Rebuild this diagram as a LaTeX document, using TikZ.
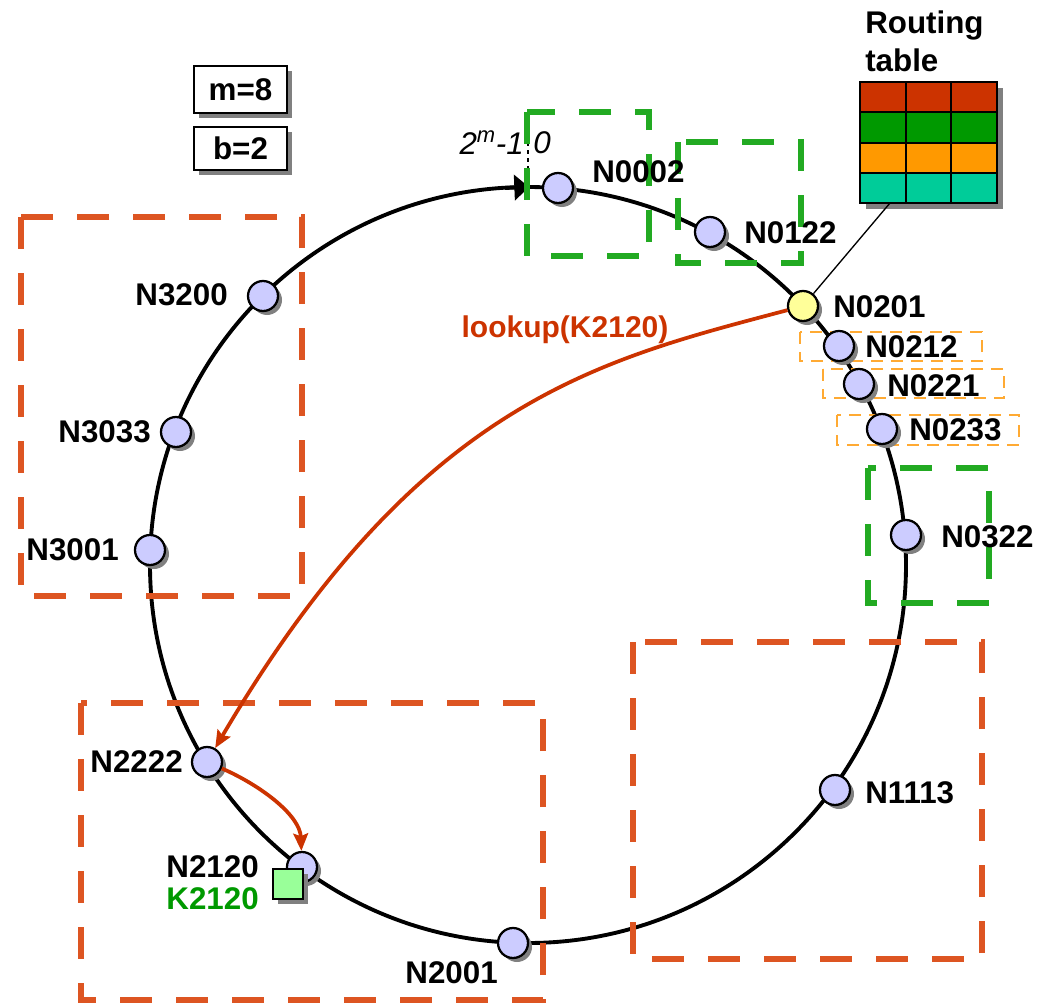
\documentclass[tikz,border=0pt]{standalone}
\usepackage{fontspec}
\setmainfont{Liberation Sans}
\usepackage{xcolor}
\usepackage{tikz}
\usetikzlibrary{shadows,arrows.meta}

\definecolor{peerfill}{RGB}{204,204,255}
\definecolor{selffill}{RGB}{255,255,153}
\definecolor{keyfill}{RGB}{153,255,153}
\definecolor{lookupred}{RGB}{204,51,0}
\definecolor{rowred}{RGB}{204,51,0}
\definecolor{rowgreen}{RGB}{0,153,0}
\definecolor{roworange}{RGB}{255,153,0}
\definecolor{rowteal}{RGB}{0,204,153}
\definecolor{zonered}{RGB}{221,85,34}
\definecolor{zonegreen}{RGB}{34,170,34}
\definecolor{zoneorange}{RGB}{255,170,51}

\tikzset{
  peer/.style={circle,draw,line width=1.7pt,fill=peerfill,minimum size=22.5pt,inner sep=0pt,
    drop shadow={shadow xshift=3pt,shadow yshift=-3pt,opacity=1,fill=black!50}},
  lbl/.style={inner sep=0pt,font=\fontsize{23.5}{28.5}\selectfont\bfseries},
  redbox/.style={draw=zonered,line width=4.2pt,dash pattern=on 24pt off 18pt},
  greenbox/.style={draw=zonegreen,line width=4.2pt,dash pattern=on 24pt off 18pt},
  leafbox/.style={draw=zoneorange,line width=2pt,dash pattern=on 9pt off 6pt},
  hop/.style={draw=lookupred,line width=2.8pt,-{Stealth[length=13pt,width=11pt,inset=2pt]}},
  parambox/.style={draw,line width=1.5pt,fill=white,minimum width=69.75pt,inner sep=0pt,
    font=\fontsize{23.5}{28.5}\selectfont\bfseries,
    drop shadow={shadow xshift=3.75pt,shadow yshift=-3.75pt,opacity=1,fill=black!50}}
}

\begin{document}
\begin{tikzpicture}[x=0.75pt,y=0.75pt,yscale=-1,xscale=1]
\useasboundingbox (0,0) rectangle (1039,1006);

% ring
\coordinate (ctr) at (528,565);
\draw[line width=2.9pt] (ctr) circle (378);
\draw[line width=2.9pt,-{Triangle[length=11pt,width=19pt]}] (505,188) -- (529,187);
\draw[line width=1pt,dash pattern=on 3pt off 3pt] (528,118) -- (528,186);
\draw (524,143) node [anchor=east][inner sep=0pt][font=\fontsize{23.5}{28.5}\selectfont\itshape] (wrapend) {2\textsuperscript{m}-1};
\draw (533,143) node [anchor=west][inner sep=0pt][font=\fontsize{23.5}{28.5}\selectfont\itshape] (wrapzero) {0};

% neighbourhood boxes
\draw[redbox] (21,217) rectangle (302,596);
\draw[redbox] (81,703) rectangle (543,1000);
\draw[redbox] (633,642) rectangle (982,959);
\draw[greenbox] (527,112) rectangle (649,256);
\draw[greenbox] (678,142) rectangle (801,263);
\draw[greenbox] (868,468) rectangle (989,603);
\draw[leafbox] (800,332) rectangle (982,361);
\draw[leafbox] (823,369) rectangle (1004,398);
\draw[leafbox] (837,415) rectangle (1019,445);

% parameters
\draw (240.5,89.5) node [parambox,minimum height=35.25pt] (mparam) {m=8};
\draw (240.5,148.5) node [parambox,minimum height=32.25pt] (bparam) {b=2};

% routing table
\fill[black!50] (866,88) rectangle (1003,209);
\foreach \c [count=\i from 0] in {rowred,rowgreen,roworange,rowteal}
  \fill[\c] (860,{82+30.25*\i}) rectangle (997,{112.25+30.25*\i});
\draw[line width=1.5pt] (860,82) rectangle (997,203);
\foreach \x in {905.7,951.3}
  \draw[line width=1.5pt] (\x,82) -- (\x,203);
\foreach \y in {112.25,142.5,172.75}
  \draw[line width=1.5pt] (860,\y) -- (997,\y);
\draw (865,41) node [lbl,anchor=west,align=left] (rtlabel) {Routing\\table};
\coordinate (rtfoot) at (890,203);

% peers
\draw (558,188) node [peer] (n0002) {};
\draw (710,232) node [peer] (n0122) {};
\draw (803,306) node [peer,fill=selffill] (n0201) {};
\draw (839,346) node [peer] (n0212) {};
\draw (859,384) node [peer] (n0221) {};
\draw (882,429) node [peer] (n0233) {};
\draw (906,535) node [peer] (n0322) {};
\draw (835,790) node [peer] (n1113) {};
\draw (513,943) node [peer] (n2001) {};
\draw (302,867) node [peer] (n2120) {};
\draw (207,762) node [peer] (n2222) {};
\draw (150,550) node [peer] (n3001) {};
\draw (176,432) node [peer] (n3033) {};
\draw (263,296) node [peer] (n3200) {};

\draw (288,884) node [rectangle,draw,line width=1.7pt,fill=keyfill,minimum size=22.5pt,inner sep=0pt,
  drop shadow={shadow xshift=3.75pt,shadow yshift=-3.75pt,opacity=1,fill=black!50}] (k2120) {};

\draw[line width=1pt] (rtfoot) -- (n0201);

% labels
\draw (592,172) node [lbl,anchor=west] (t0002) {N0002};
\draw (744,233) node [lbl,anchor=west] (t0122) {N0122};
\draw (833,307) node [lbl,anchor=west] (t0201) {N0201};
\draw (865,347) node [lbl,anchor=west] (t0212) {N0212};
\draw (887,386) node [lbl,anchor=west] (t0221) {N0221};
\draw (909,430) node [lbl,anchor=west] (t0233) {N0233};
\draw (941,537) node [lbl,anchor=west] (t0322) {N0322};
\draw (865,793) node [lbl,anchor=west] (t1113) {N1113};
\draw (498,973) node [lbl,anchor=east] (t2001) {N2001};
\draw (259,867) node [lbl,anchor=east] (t2120) {N2120};
\draw (259,899) node [lbl,anchor=east,text=rowgreen] (tk2120) {K2120};
\draw (183,762) node [lbl,anchor=east] (t2222) {N2222};
\draw (119,550) node [lbl,anchor=east] (t3001) {N3001};
\draw (151,432) node [lbl,anchor=east] (t3033) {N3033};
\draw (228,295) node [lbl,anchor=east] (t3200) {N3200};
\draw (565,330) node [lbl,text=lookupred,font=\fontsize{22.5}{26}\selectfont\bfseries] (tlookup) {lookup(K2120)};

% lookup hops
\draw[hop] (n0201) .. controls (600,360) and (420,400) .. (n2222);
\draw[hop] (n2222) .. controls (260,785) and (300,815) .. (n2120);

\end{tikzpicture}
\end{document}
